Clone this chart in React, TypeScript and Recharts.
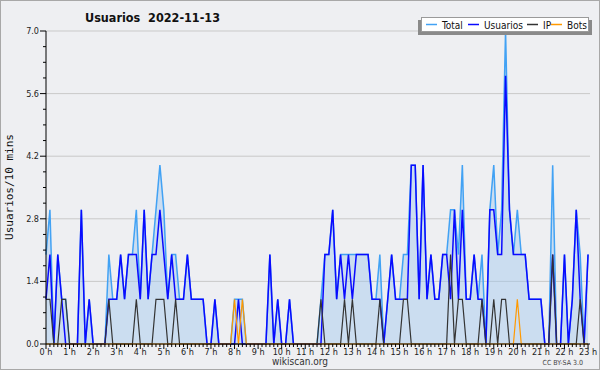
import { Area, CartesianGrid, ComposedChart, Line, XAxis, YAxis } from "recharts";

const hourLabels = [
  "0 h", "1 h", "2 h", "3 h", "4 h", "5 h", "6 h", "7 h", "8 h", "9 h", "10 h", "11 h",
  "12 h", "13 h", "14 h", "15 h", "16 h", "17 h", "18 h", "19 h", "20 h", "21 h", "22 h", "23 h",
];
const yLabels = ["0.0", "1.4", "2.8", "4.2", "5.6", "7.0"];
const legendNames = ["Total", "Usuarios", "IP", "Bots"];

// one value per 10 minutes, from 0:00
const total = [
  2, 3, 0, 2, 1, 1, 0, 0, 0, 3,
  0, 1, 0, 0, 0, 0, 2, 1, 1, 2,
  1, 2, 2, 3, 1, 3, 1, 2, 3, 4,
  3, 1, 2, 2, 1, 1, 2, 1, 1, 1,
  1, 0, 0, 1, 0, 0, 0, 0, 1, 1,
  1, 0, 0, 0, 0, 0, 0, 2, 0, 1,
  0, 0, 1, 0, 0, 0, 0, 0, 0, 0,
  1, 2, 2, 3, 1, 2, 2, 2, 2, 2,
  2, 2, 2, 1, 1, 2, 0, 1, 2, 1,
  1, 2, 2, 4, 4, 1, 4, 1, 2, 1,
  1, 2, 2, 3, 3, 2, 4, 1, 1, 2,
  1, 2, 0, 3, 4, 2, 3, 7, 3, 2,
  3, 2, 2, 1, 1, 1, 1, 0, 0, 4,
  0, 0, 2, 0, 1, 3, 2, 0, 2,
];
const usuarios = [
  1, 2, 0, 2, 1, 0, 0, 0, 0, 3,
  0, 1, 0, 0, 0, 0, 1, 1, 1, 2,
  1, 2, 2, 2, 1, 3, 1, 2, 2, 3,
  2, 1, 2, 1, 1, 1, 2, 1, 1, 1,
  1, 0, 0, 1, 0, 0, 0, 0, 0, 1,
  0, 0, 0, 0, 0, 0, 0, 2, 0, 1,
  0, 0, 1, 0, 0, 0, 0, 0, 0, 0,
  0, 2, 2, 3, 1, 2, 1, 2, 1, 2,
  2, 2, 2, 1, 1, 1, 0, 1, 2, 1,
  1, 1, 1, 4, 4, 1, 4, 1, 2, 1,
  1, 2, 2, 1, 3, 1, 3, 1, 1, 2,
  1, 1, 0, 3, 3, 2, 2, 6, 3, 2,
  2, 2, 2, 1, 1, 1, 1, 0, 0, 2,
  0, 0, 2, 0, 1, 3, 1, 0, 2,
];
const ip = [
  1, 1, 0, 0, 1, 1, 0, 0, 0, 0,
  0, 0, 0, 0, 0, 0, 1, 0, 0, 0,
  0, 0, 0, 1, 0, 0, 0, 0, 1, 1,
  1, 0, 0, 1, 0, 0, 0, 0, 0, 0,
  0, 0, 0, 0, 0, 0, 0, 0, 0, 0,
  0, 0, 0, 0, 0, 0, 0, 0, 0, 0,
  0, 0, 0, 0, 0, 0, 0, 0, 0, 0,
  1, 0, 0, 0, 0, 0, 1, 0, 1, 0,
  0, 0, 0, 0, 0, 1, 0, 0, 0, 0,
  0, 1, 1, 0, 0, 0, 0, 0, 0, 0,
  0, 0, 0, 2, 0, 1, 1, 0, 0, 0,
  0, 1, 0, 0, 1, 0, 1, 1, 0, 0,
  0, 0, 0, 0, 0, 0, 0, 0, 0, 2,
  0, 0, 0, 0, 0, 0, 1, 0, 0,
];
const bots = [
  0, 0, 0, 0, 0, 0, 0, 0, 0, 0,
  0, 0, 0, 0, 0, 0, 0, 0, 0, 0,
  0, 0, 0, 0, 0, 0, 0, 0, 0, 0,
  0, 0, 0, 0, 0, 0, 0, 0, 0, 0,
  0, 0, 0, 0, 0, 0, 0, 0, 1, 0,
  1, 0, 0, 0, 0, 0, 0, 0, 0, 0,
  0, 0, 0, 0, 0, 0, 0, 0, 0, 0,
  0, 0, 0, 0, 0, 0, 0, 0, 0, 0,
  0, 0, 0, 0, 0, 0, 0, 0, 0, 0,
  0, 0, 0, 0, 0, 0, 0, 0, 0, 0,
  0, 0, 0, 0, 0, 0, 0, 0, 0, 0,
  0, 0, 0, 0, 0, 0, 0, 0, 0, 0,
  1, 0, 0, 0, 0, 0, 0, 0, 0, 0,
  0, 0, 0, 0, 0, 0, 0, 0, 0,
];

const colors = ["#42a2f4", "#0a0aff", "#333333", "#ff9900"];
const font = "'DejaVu Sans Condensed', 'DejaVu Sans', sans-serif";

const xTicks = total.map((_, i) => i);
const yTicks = [0, 0.35, 0.7, 1.05, 1.4, 1.75, 2.1, 2.45, 2.8, 3.15, 3.5, 3.85, 4.2, 4.55, 4.9, 5.25, 5.6, 5.95, 6.3, 6.65, 7];

function XTick(props: any) {
  const { x, y, payload } = props;
  const v = payload.value;
  const major = v % 6 === 0;
  return (
    <g>
      <line x1={x} x2={x} y1={y} y2={y + (major ? 5 : 3)} stroke="#000" />
      {major && (
        <text x={x} y={y + 11} textAnchor="middle" fontSize={9} fontFamily={font} fill="#222">
          {hourLabels[v / 6]}
        </text>
      )}
    </g>
  );
}

function YTick(props: any) {
  const { x, y, index } = props;
  const major = index % 4 === 0;
  return (
    <g>
      <line x1={x - (major ? 6 : 3)} x2={x} y1={y} y2={y} stroke="#000" />
      {major && (
        <text x={x - 7} y={y + 3} textAnchor="end" fontSize={9} fontFamily={font} fill="#222">
          {yLabels[index / 4]}
        </text>
      )}
    </g>
  );
}

export default function App() {
  const data = total.map((t, i) => ({ i, total: t, usuarios: usuarios[i], ip: ip[i], bots: bots[i] }));
  const legendX = [426, 468, 527, 551];

  return (
    <div style={{ position: "absolute", left: 0, top: 0, width: 600, height: 370, background: "#eeeff2", overflow: "hidden" }}>
      <ComposedChart width={600} height={370} data={data} margin={{ top: 31, right: 10, bottom: 0, left: 0 }}>
        <CartesianGrid vertical={false} stroke="#c9c9c9" horizontalValues={[1.4, 2.8, 4.2, 5.6, 7]} />
        <Area
          type="linear"
          dataKey="total"
          stroke={colors[0]}
          strokeWidth={1.5}
          fill="#9fc8ee"
          fillOpacity={0.45}
          dot={false}
          activeDot={false}
          isAnimationActive={false}
        />
        <Line type="linear" dataKey="usuarios" stroke={colors[1]} strokeWidth={1.5} dot={false} activeDot={false} isAnimationActive={false} />
        <Line type="linear" dataKey="ip" stroke={colors[2]} strokeWidth={1.2} dot={false} activeDot={false} isAnimationActive={false} />
        <Line type="linear" dataKey="bots" stroke={colors[3]} strokeWidth={1.2} dot={false} activeDot={false} isAnimationActive={false} />
        <XAxis
          dataKey="i"
          type="number"
          domain={[0, 138.5]}
          ticks={xTicks}
          interval={0}
          height={26}
          tickSize={0}
          tickMargin={0}
          tickLine={false}
          axisLine={{ stroke: "#000" }}
          tick={<XTick />}
        />
        <YAxis
          domain={[0, 7]}
          ticks={yTicks}
          interval={0}
          width={46}
          tickSize={0}
          tickMargin={0}
          tickLine={false}
          axisLine={{ stroke: "#000" }}
          tick={<YTick />}
        />
      </ComposedChart>
      <svg width={600} height={370} style={{ position: "absolute", left: 0, top: 0, pointerEvents: "none" }}>
        <rect x={0.5} y={0.5} width={599} height={369} fill="none" stroke="#a8a8a8" />
        <text x={85} y={22} fontFamily={font} fontWeight="bold" fontSize={12.5} fill="#111">
          Usuarios{"\u00a0\u00a0"}2022-11-13
        </text>
        <text
          transform="translate(13,187) rotate(-90)"
          textAnchor="middle"
          fontFamily="'DejaVu Sans Mono', monospace"
          fontSize={11}
          fill="#111"
        >
          Usuarios/10 mins
        </text>
        <text x={300} y={365} textAnchor="middle" fontFamily={font} fontSize={10} fill="#333">
          wikiscan.org
        </text>
        <text x={583} y={365} textAnchor="end" fontFamily={font} fontSize={7} fill="#444">
          CC BY-SA 3.0
        </text>
        <rect x={418} y={20} width={174} height={15} fill="#8a8a8a" />
        <rect x={421.5} y={17.5} width={167} height={14} fill="#fff" stroke="#9a9a9a" />
        {legendNames.map((name, k) => (
          <g key={name}>
            <line x1={legendX[k]} x2={legendX[k] + 11} y1={24.5} y2={24.5} stroke={colors[k]} strokeWidth={1.5} />
            <text x={legendX[k] + 16} y={28.5} fontFamily={font} fontSize={10} fill="#111">
              {name}
            </text>
          </g>
        ))}
      </svg>
    </div>
  );
}
